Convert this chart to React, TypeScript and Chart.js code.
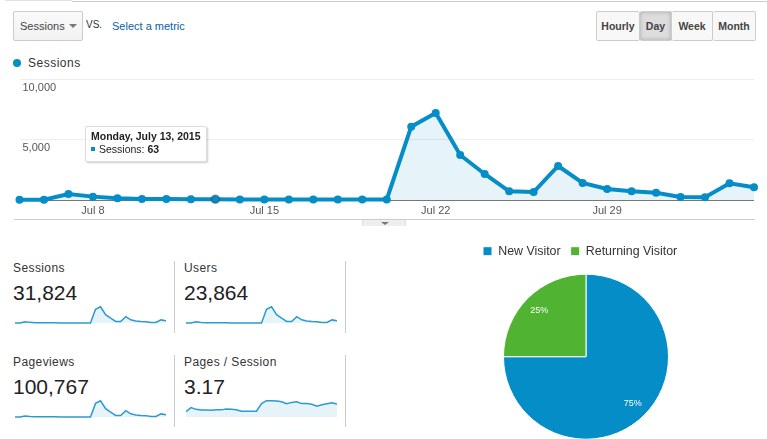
import React, { useEffect, useRef } from 'react';
import { Chart, registerables } from 'chart.js';

Chart.register(...registerables);

const days = [
  'Jul 5', 'Jul 6', 'Jul 7', 'Jul 8', 'Jul 9', 'Jul 10', 'Jul 11', 'Jul 12', 'Jul 13', 'Jul 14', 'Jul 15',
  'Jul 16', 'Jul 17', 'Jul 18', 'Jul 19', 'Jul 20', 'Jul 21', 'Jul 22', 'Jul 23', 'Jul 24', 'Jul 25', 'Jul 26',
  'Jul 27', 'Jul 28', 'Jul 29', 'Jul 30', 'Jul 31', 'Aug 1', 'Aug 2', 'Aug 3', 'Aug 4',
];
const xTickLabels = ['Jul 8', 'Jul 15', 'Jul 22', 'Jul 29'];
const sessions = [30, 30, 500, 280, 140, 90, 90, 63, 63, 50, 50, 40, 40, 40, 40, 50, 6083, 7220, 3735, 2158, 720, 664, 2822, 1411, 913, 720, 608, 249, 221, 1383, 1051];
const users = [25, 25, 380, 210, 105, 70, 68, 48, 47, 38, 37, 30, 30, 31, 30, 38, 4610, 5470, 2830, 1640, 545, 500, 2140, 1070, 690, 545, 460, 190, 170, 1050, 795];
const pageviews = [90, 95, 1500, 850, 420, 270, 275, 190, 185, 150, 155, 120, 125, 120, 122, 150, 19400, 23100, 11900, 6900, 2300, 2120, 9000, 4500, 2900, 2300, 1950, 790, 705, 4430, 3350];
const pagesPerSession = [1.5, 2.7, 2.2, 2.0, 2.0, 1.97, 2.05, 2.05, 2.3, 2.2, 2.1, 1.65, 1.65, 1.65, 1.65, 3.85, 4.7, 4.7, 4.6, 4.4, 3.85, 4.2, 4.4, 3.85, 3.85, 3.65, 3.1, 3.5, 3.8, 4.1, 3.7];
const visitorLabels = ['New Visitor', 'Returning Visitor'];
const visitorShare = [75, 25];

const BLUE = '#058dc7';
const GREEN = '#50b432';
const FILL = 'rgba(5,141,199,0.1)';
const FONT = '"Liberation Sans", Arial, sans-serif';
const HOVER_INDEX = 8;

const abs = (left: number, top: number, extra: React.CSSProperties = {}): React.CSSProperties => ({
  position: 'absolute',
  left,
  top,
  whiteSpace: 'nowrap',
  ...extra,
});

const MainChart = () => {
  const ref = useRef<HTMLCanvasElement>(null);

  useEffect(() => {
    const chart = new Chart(ref.current!, {
      type: 'line',
      data: {
        labels: days,
        datasets: [
          {
            data: sessions,
            borderColor: BLUE,
            backgroundColor: FILL,
            borderWidth: 4,
            fill: 'origin',
            tension: 0,
            clip: false,
            pointRadius: 4,
            pointBackgroundColor: BLUE,
            pointBorderWidth: (c: any) => (c.dataIndex === HOVER_INDEX ? 2 : 0),
            pointBorderColor: 'rgba(60,60,60,0.35)',
          },
        ],
      },
      options: {
        responsive: false,
        animation: false,
        layout: { padding: { left: 19.5, right: 13, top: 19.5, bottom: 0 } },
        plugins: { legend: { display: false }, tooltip: { enabled: false } },
        scales: {
          x: {
            offset: false,
            afterFit: (axis: any) => {
              axis.height = 30;
            },
            grid: { display: false, drawTicks: false },
            border: { display: false },
            ticks: {
              autoSkip: false,
              maxRotation: 0,
              padding: 4,
              color: '#555',
              font: { family: FONT, size: 11 },
              callback: (_v: any, i: number) => (xTickLabels.includes(days[i]) ? days[i] : ''),
            },
          },
          y: {
            min: 0,
            max: 10000,
            afterFit: (axis: any) => {
              axis.width = 0;
            },
            grid: {
              drawTicks: false,
              color: (c: any) => (c.tick.value === 0 ? '#777' : '#eee'),
            },
            border: { display: false },
            ticks: {
              stepSize: 5000,
              mirror: true,
              padding: 3,
              labelOffset: 8,
              color: '#555',
              font: { family: FONT, size: 11 },
              callback: (v: any) => (v === 0 ? '' : Number(v).toLocaleString('en-US')),
            },
          },
        },
      },
    });
    return () => chart.destroy();
  }, []);

  return <canvas ref={ref} width={767} height={170} style={abs(0, 60)} />;
};

interface SparkProps {
  left: number;
  top: number;
  values: number[];
  max: number;
}

const Spark: React.FC<SparkProps> = ({ left, top, values, max }) => {
  const ref = useRef<HTMLCanvasElement>(null);

  useEffect(() => {
    const chart = new Chart(ref.current!, {
      type: 'line',
      data: {
        labels: days,
        datasets: [
          {
            data: values,
            borderColor: '#2a9bd0',
            backgroundColor: FILL,
            borderWidth: 1.5,
            fill: 'origin',
            tension: 0,
            clip: false,
            pointRadius: 0,
          },
        ],
      },
      options: {
        responsive: false,
        animation: false,
        layout: { padding: { bottom: 2 } },
        plugins: { legend: { display: false }, tooltip: { enabled: false } },
        scales: {
          x: { display: false },
          y: { display: false, min: 0, max },
        },
      },
    });
    return () => chart.destroy();
  }, [values, max]);

  return <canvas ref={ref} width={151} height={26} style={abs(left, top)} />;
};

const pieLabels = {
  id: 'pieLabels',
  afterDatasetsDraw(chart: any) {
    const { ctx } = chart;
    chart.getDatasetMeta(0).data.forEach((arc: any, i: number) => {
      const mid = (arc.startAngle + arc.endAngle) / 2;
      const r = arc.outerRadius * 0.8;
      ctx.save();
      ctx.fillStyle = '#fff';
      ctx.font = `9px ${FONT}`;
      ctx.textAlign = 'center';
      ctx.textBaseline = 'middle';
      ctx.fillText(`${visitorShare[i]}%`, arc.x + Math.cos(mid) * r, arc.y + Math.sin(mid) * r);
      ctx.restore();
    });
  },
};

const VisitorPie = () => {
  const ref = useRef<HTMLCanvasElement>(null);

  useEffect(() => {
    const chart = new Chart(ref.current!, {
      type: 'pie',
      data: {
        labels: visitorLabels,
        datasets: [
          {
            data: visitorShare,
            backgroundColor: [BLUE, GREEN],
            borderColor: '#fff',
            borderWidth: 1,
            radius: 82.5,
          },
        ],
      },
      options: {
        responsive: false,
        animation: false,
        plugins: {
          tooltip: { enabled: false },
          legend: {
            position: 'top',
            align: 'start',
            labels: {
              boxWidth: 9,
              boxHeight: 9,
              padding: 10,
              color: '#333',
              font: { family: FONT, size: 12.4 },
            },
          },
        },
      },
      plugins: [pieLabels],
    });
    return () => chart.destroy();
  }, []);

  return <canvas ref={ref} width={226} height={211} style={abs(473, 235)} />;
};

const Metric = ({ left, top, name, value }: { left: number; top: number; name: string; value: string }) => (
  <>
    <div style={abs(left, top, { fontSize: 12, letterSpacing: 0.4, color: '#333' })}>{name}</div>
    <div style={abs(left, top + 20, { fontSize: 21, color: '#222' })}>{value}</div>
  </>
);

const Divider = ({ left, top }: { left: number; top: number }) => (
  <div style={abs(left, top, { width: 1, height: 72, background: '#ccc' })} />
);

const rangeButtons = [
  { label: 'Hourly', left: 596, width: 44 },
  { label: 'Day', left: 640, width: 32, active: true },
  { label: 'Week', left: 672, width: 41 },
  { label: 'Month', left: 713, width: 43 },
];

export default function App() {
  return (
    <div style={{ position: 'absolute', left: 0, top: 0, width: 767, height: 439, overflow: 'hidden', background: '#fff', fontFamily: FONT }}>
      <div style={abs(5, 0, { width: 67, height: 1, background: '#e4e4e4' })} />
      <div style={abs(72, 1, { width: 695, height: 1, background: '#ccc' })} />

      <div style={abs(13, 11, { width: 68, height: 28, border: '1px solid #ccc', borderRadius: 2, background: 'linear-gradient(#fafafa,#f1f1f1)' })} />
      <div style={abs(20, 20, { fontSize: 11, color: '#444' })}>Sessions</div>
      <div style={abs(69, 24, { width: 0, height: 0, borderLeft: '4px solid transparent', borderRight: '4px solid transparent', borderTop: '4px solid #777' })} />
      <div style={abs(86, 19, { fontSize: 10, color: '#333' })}>VS.</div>
      <div style={abs(112, 20, { fontSize: 11, color: '#0b5ea8' })}>Select a metric</div>

      {rangeButtons.map((b) => (
        <div
          key={b.label}
          style={abs(b.left, 11, {
            width: b.width,
            height: 30,
            boxSizing: 'border-box',
            border: '1px solid #ccc',
            borderLeftWidth: b.left === 596 ? 1 : 0,
            borderRadius: 2,
            textAlign: 'center',
            lineHeight: '28px',
            fontSize: 10.5,
            fontWeight: 'bold',
            color: '#444',
            background: b.active ? '#ddd' : '#f8f8f8',
            boxShadow: b.active ? 'inset 0 0 4px #aaa' : undefined,
          })}
        >
          {b.label}
        </div>
      ))}

      <div style={abs(13, 59, { width: 8, height: 8, borderRadius: 4, background: BLUE })} />
      <div style={abs(28, 56, { fontSize: 12, letterSpacing: 0.5, color: '#333' })}>Sessions</div>

      <MainChart />

      <div style={abs(85, 126, { width: 120, height: 34, background: '#fff', border: '1px solid #ddd', borderRadius: 2, boxShadow: '1px 1px 2px rgba(0,0,0,0.2)' })} />
      <div style={abs(91, 130, { fontSize: 10.5, fontWeight: 'bold', color: '#222' })}>Monday, July 13, 2015</div>
      <div style={abs(91, 147, { width: 4, height: 4, background: BLUE })} />
      <div style={abs(99, 143, { fontSize: 10.5, color: '#222' })}>
        Sessions: <b>63</b>
      </div>

      <div style={abs(14, 219, { width: 741, height: 1, background: '#ccc' })} />
      <div style={abs(362, 220, { width: 44, height: 6, background: '#eee', borderLeft: '1px solid #ddd', borderRight: '1px solid #ddd', boxSizing: 'border-box' })} />
      <div style={abs(381, 222, { width: 0, height: 0, borderLeft: '4px solid transparent', borderRight: '4px solid transparent', borderTop: '3px solid #777' })} />

      <Metric left={13} top={261} name="Sessions" value="31,824" />
      <Metric left={184} top={261} name="Users" value="23,864" />
      <Metric left={13} top={355} name="Pageviews" value="100,767" />
      <Metric left={184} top={355} name="Pages / Session" value="3.17" />
      <Divider left={174} top={261} />
      <Divider left={345} top={261} />
      <Divider left={174} top={355} />
      <Divider left={345} top={355} />

      <Spark left={15} top={299} values={sessions} max={10700} />
      <Spark left={186} top={299} values={users} max={8100} />
      <Spark left={15} top={393} values={pageviews} max={34200} />
      <Spark left={186} top={393} values={pagesPerSession} max={6.9} />

      <VisitorPie />
    </div>
  );
}
